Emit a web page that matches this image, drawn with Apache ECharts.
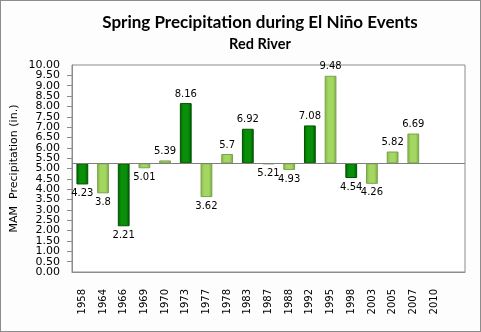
<!DOCTYPE html>
<html>
<head>
<meta charset="utf-8">
<script src="https://cdn.jsdelivr.net/npm/echarts@6/dist/echarts.min.js"></script>
<style>
  html, body { margin: 0; padding: 0; background: #ffffff; }
  #chart { width: 479px; height: 330px; border: 1px solid #8c8c8c; background: #fdfdfd; }
</style>
</head>
<body>
<div id="chart"></div>
<script>
// Spring (MAM) precipitation for El Niño years, Red River basin
const years = ['1958', '1964', '1966', '1969', '1970', '1973', '1977', '1978', '1983', '1987',
               '1988', '1992', '1995', '1998', '2003', '2005', '2007', '2010', ''];
const precip = [4.23, 3.8, 2.21, 5.01, 5.39, 8.16, 3.62, 5.7, 6.92, 5.21,
                4.93, 7.08, 9.48, 4.54, 4.26, 5.82, 6.69, null, null];
// strong events are drawn in dark green
const strong = [true, false, true, false, false, true, false, false, true, false,
                false, true, false, true, false, false, false, false, false];
const normal = 5.25; // long-term mean used as the bar baseline
const yTickValues = [0, 0.5, 1, 1.5, 2, 2.5, 3, 3.5, 4, 4.5, 5,
                     5.5, 6, 6.5, 7, 7.5, 8, 8.5, 9, 9.5, 10];
const yMin = yTickValues[0];
const yMax = yTickValues[yTickValues.length - 1];

const darkFill = new echarts.graphic.LinearGradient(0, 0, 1, 0, [
  { offset: 0, color: '#006400' }, { offset: 0.3, color: '#0a8f0a' },
  { offset: 0.7, color: '#0a8f0a' }, { offset: 1, color: '#005a00' }]);
const lightFill = new echarts.graphic.LinearGradient(0, 0, 1, 0, [
  { offset: 0, color: '#7fb446' }, { offset: 0.3, color: '#a3d762' },
  { offset: 0.7, color: '#a3d762' }, { offset: 1, color: '#76aa40' }]);

// invisible lower part of each stack, so the visible bar spans baseline <-> value
const baseData = precip.map(v => v == null ? '-' : Math.min(v, normal));
const deltaData = precip.map((v, i) => v == null ? '-' : {
  value: Math.abs(v - normal),
  raw: v,
  itemStyle: {
    color: strong[i] ? darkFill : lightFill,
    borderColor: strong[i] ? '#005200' : '#7da24e',
    borderWidth: 1
  },
  label: { position: v >= normal ? 'top' : 'bottom' }
});

const labelFont = { fontFamily: 'DejaVu Sans', fontSize: 11, color: '#000' };

const chart = echarts.init(document.getElementById('chart'), null, { renderer: 'canvas' });
chart.setOption({
  animation: false,
  backgroundColor: '#fdfdfd',
  graphic: [
    { type: 'text', x: 259, y: 22, style: { text: 'Spring Precipitation during El Niño Events',
      align: 'center', verticalAlign: 'middle', fill: '#000',
      font: 'bold 17px Lato' } },
    { type: 'text', x: 259, y: 43, style: { text: 'Red River',
      align: 'center', verticalAlign: 'middle', fill: '#000',
      font: 'bold 14.5px Lato' } }
  ],
  grid: { left: 66, right: 15, top: 64, bottom: 59, show: true, borderColor: '#8c8c8c', borderWidth: 1,
          backgroundColor: '#ffffff' },
  xAxis: {
    type: 'category', data: years,
    axisLine: { show: true, lineStyle: { color: '#8c8c8c' } },
    axisTick: { show: false },
    axisLabel: { rotate: 90, interval: 0, margin: 17, fontFamily: 'DejaVu Sans', fontSize: 10, color: '#000' }
  },
  yAxis: [
    { // main axis: ticks and the inner labels
      type: 'value', min: yMin, max: yMax, interval: 0.5, position: 'left',
      name: 'MAM  Precipitation (in.)', nameLocation: 'middle', nameGap: 52,
      nameTextStyle: { fontFamily: 'DejaVu Sans', fontSize: 11, color: '#000' },
      axisLine: { show: true, lineStyle: { color: '#8c8c8c' } },
      axisTick: { show: true, length: 5, lineStyle: { color: '#8c8c8c' } },
      splitLine: { show: false },
      axisLabel: Object.assign({ formatter: v => v.toFixed(2), margin: 12,
                                 showMinLabel: false, showMaxLabel: false }, labelFont)
    },
    { // companion axis carrying the end labels (0.00 and 10.00)
      type: 'value', min: yMin, max: yMax, position: 'left', offset: 0,
      axisLine: { show: false }, axisTick: { show: false }, splitLine: { show: false },
      axisLabel: Object.assign({ customValues: [yMin, yMax], formatter: v => v.toFixed(2), margin: 12,
                                 showMinLabel: true, showMaxLabel: true }, labelFont)
    }
  ],
  series: [
    { type: 'bar', stack: 'p', data: baseData, barWidth: '57%', silent: true,
      itemStyle: { color: 'rgba(0,0,0,0)' } },
    { type: 'bar', stack: 'p', data: deltaData, barWidth: '57%',
      label: { show: true, distance: 4, fontFamily: 'DejaVu Sans', fontSize: 10, color: '#000',
               formatter: p => String(p.data.raw) },
      markLine: { silent: true, symbol: 'none', label: { show: false },
                  lineStyle: { color: '#7f7f7f', width: 1, type: 'solid' },
                  data: [{ yAxis: normal }] } }
  ]
});
</script>
</body>
</html>
